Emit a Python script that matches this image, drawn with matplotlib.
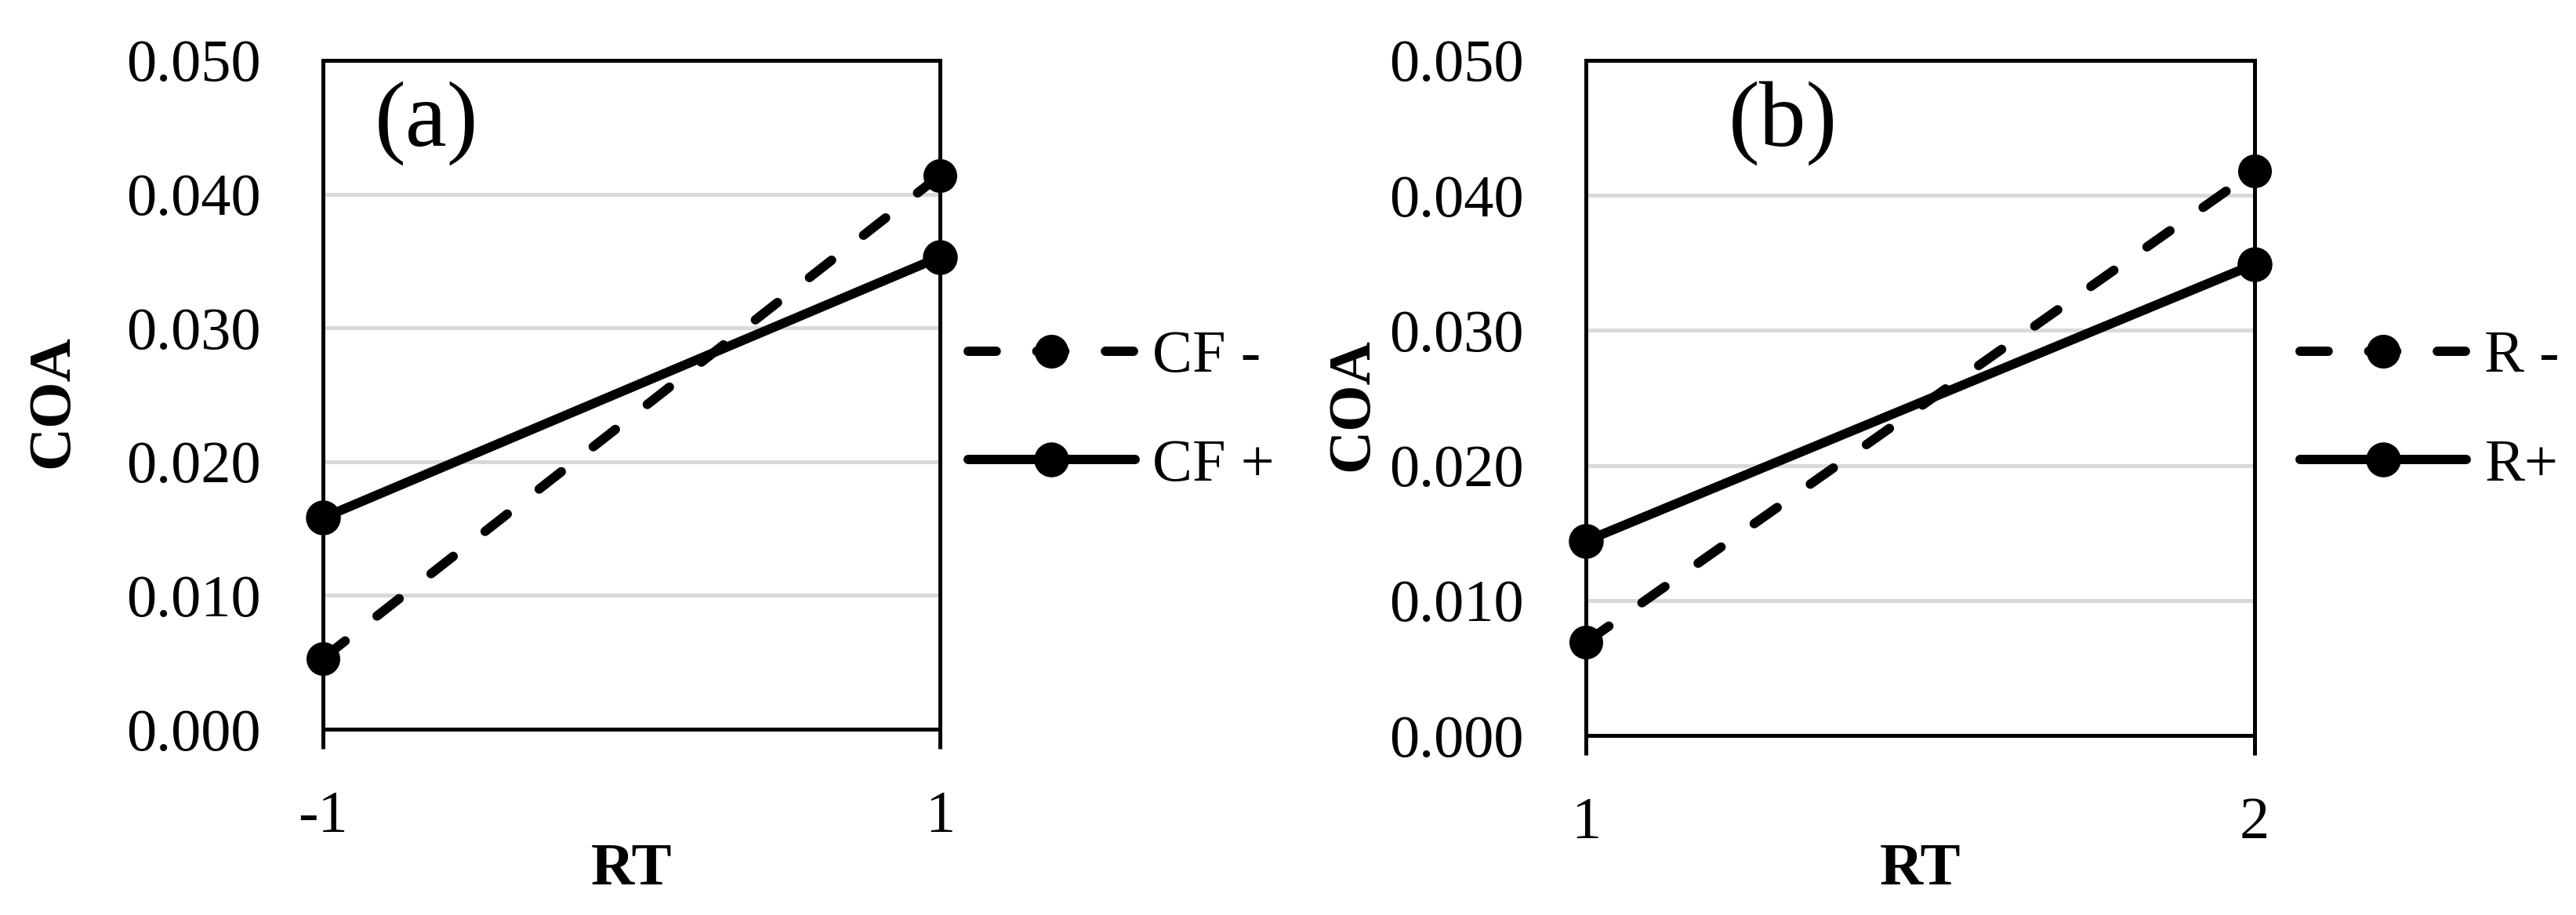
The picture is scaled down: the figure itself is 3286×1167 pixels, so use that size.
import matplotlib
matplotlib.use("Agg")
import matplotlib.pyplot as plt

plt.rcParams['font.family'] = ['Liberation Serif', 'DejaVu Serif']
plt.rcParams['axes.unicode_minus'] = False

# ---- data ----
rt_a = [-1, 1]
rt_a_labels = ["-1", "1"]
cf_minus = [0.0053, 0.0414]
cf_plus = [0.0158, 0.0353]

rt_b = [1, 2]
rt_b_labels = ["1", "2"]
r_minus = [0.0069, 0.0418]
r_plus = [0.0144, 0.0349]

y_ticks = [0.000, 0.010, 0.020, 0.030, 0.040, 0.050]
y_tick_labels = ["0.000", "0.010", "0.020", "0.030", "0.040", "0.050"]

series_a = [("CF -", cf_minus, "dash"), ("CF +", cf_plus, "solid")]
series_b = [("R -", r_minus, "dash"), ("R+", r_plus, "solid")]

W, H = 3287, 1167
DPI = 100
fig = plt.figure(figsize=(W / DPI, H / DPI), dpi=DPI)

FS = 55
LW = 8.6
DASH = (0, (3.0, 4.33))
GRID = "#d9d9d9"
SPINE_W = 3.6


def px_axes(l, r, t, b):
    return fig.add_axes([l / W, 1 - b / H, (r - l) / W, (b - t) / H])


def setup(ax, xs, xlabels, series, panel, panel_xy, ylab_x, xlab_y, leg_anchor):
    ax.set_xlim(xs[0], xs[-1])
    ax.set_ylim(0, 0.05)
    ax.set_yticks(y_ticks)
    ax.set_yticklabels(y_tick_labels)
    ax.set_xticks(xs)
    ax.set_xticklabels(xlabels)
    for y in y_ticks[1:-1]:
        ax.axhline(y, color=GRID, lw=3.6, zorder=0)
    for s in ax.spines.values():
        s.set_linewidth(SPINE_W)
        s.set_color("black")
    ax.tick_params(axis="y", length=0, pad=57, labelsize=FS)
    ax.tick_params(axis="x", direction="out", length=18, width=SPINE_W,
                   pad=38, labelsize=FS)
    handles = []
    for name, vals, style in series:
        if style == "dash":
            ln, = ax.plot(xs, vals, color="black", lw=LW, linestyle=DASH,
                          dash_capstyle="round", marker="o", markersize=29,
                          markeredgewidth=2, clip_on=False, zorder=5,
                          label=name)
        else:
            ln, = ax.plot(xs, vals, color="black", lw=LW, linestyle="-",
                          solid_capstyle="round", marker="o", markersize=30,
                          markeredgewidth=2, clip_on=False, zorder=5,
                          label=name)
        handles.append(ln)
    ax.text(panel_xy[0], panel_xy[1], panel, transform=ax.transAxes,
            fontsize=86, ha="left", va="center")
    ax.set_ylabel("COA", fontsize=FS, fontweight="bold")
    ax.yaxis.set_label_coords(ylab_x, 0.49)
    ax.set_xlabel("RT", fontsize=FS, fontweight="bold")
    ax.xaxis.set_label_coords(0.5, xlab_y)
    ax.legend(handles=handles, loc="center left",
              bbox_to_anchor=leg_anchor, frameon=False, fontsize=FS,
              borderpad=0, borderaxespad=0, handlelength=2.78,
              handletextpad=0.3, labelspacing=0.9, numpoints=1)
    return ax


ax1 = px_axes(412, 1199, 77, 930)
setup(ax1, rt_a, rt_a_labels, series_a, "(a)", (0.083, 0.906), -0.393,
      -0.170, (1.046, 0.475))

ax2 = px_axes(2023, 2876, 77, 938)
setup(ax2, rt_b, rt_b_labels, series_b, "(b)", (0.213, 0.907), -0.308,
      -0.159, (1.068, 0.480))

fig.savefig("out.png", dpi=DPI, facecolor="white")
